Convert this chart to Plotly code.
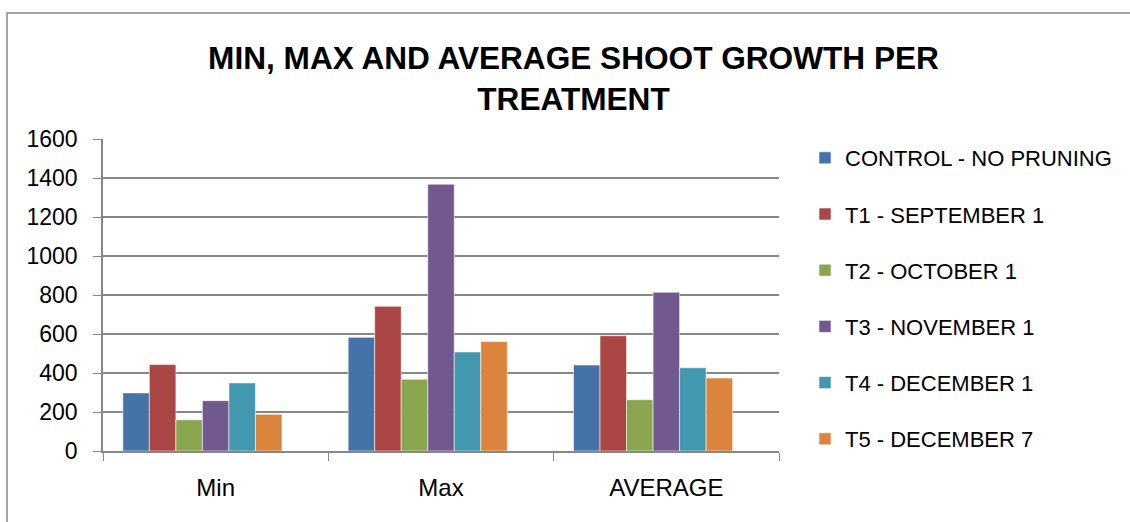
import plotly.graph_objects as go

categories = ["Min", "Max", "AVERAGE"]
series_names = [
    "CONTROL - NO PRUNING",
    "T1 - SEPTEMBER 1",
    "T2 - OCTOBER 1",
    "T3 - NOVEMBER 1",
    "T4 - DECEMBER 1",
    "T5 - DECEMBER 7",
]
control = [298, 583, 441]
t1 = [443, 742, 591]
t2 = [160, 368, 263]
t3 = [258, 1368, 814]
t4 = [349, 508, 427]
t5 = [188, 561, 374]
series_values = [control, t1, t2, t3, t4, t5]
colors = ["#4572A7", "#AA4643", "#89A54E", "#71588F", "#4198AF", "#DB843D"]
y_ticks = [0, 200, 400, 600, 800, 1000, 1200, 1400, 1600]

W, H = 1130, 522
L, R, T, B = 103, 779, 139, 451

fig = go.Figure()
n_slots = 7  # Excel reserves an empty 7th slot in each group
gap = 0.176
bw = (1 - gap) / n_slots
for i, (name, vals, col) in enumerate(zip(series_names, series_values, colors)):
    fig.add_trace(go.Bar(
        name=name, x=categories, y=vals,
        marker=dict(color=col, line=dict(color="rgba(255,255,255,0.55)", width=1)),
        width=bw, offset=-0.5 + gap / 2 + i * bw,
        legendgroup=name,
    ))

fig.update_layout(
    width=W, height=H,
    margin=dict(l=L, r=W - R, t=T, b=H - B, pad=0, autoexpand=False),
    paper_bgcolor="white", plot_bgcolor="white",
    font=dict(family="Liberation Sans, Arial, sans-serif", size=22, color="black"),
    title=dict(
        text="<b>MIN, MAX AND AVERAGE SHOOT GROWTH PER<br>TREATMENT</b>",
        font=dict(size=31.6, color="black"),
        x=573.5 / W, xanchor="center", xref="container",
        y=1 - 68.5 / H, yanchor="middle", yref="container",
    ),
    showlegend=True,
    legend=dict(
        x=(805 - L) / (R - L), xanchor="left",
        y=(B - 158 + 21) / (B - T), yanchor="top",
        font=dict(size=22, color="black"),
        tracegroupgap=24.6, traceorder="grouped",
        bgcolor="rgba(0,0,0,0)", maxheight=1,
    ),
    xaxis=dict(
        type="category", tickson="boundaries", ticks="outside", ticklen=8,
        tickcolor="#878787", showline=True, linecolor="#878787", linewidth=1.5,
        showgrid=False, ticklabelstandoff=14, tickfont=dict(size=24),
        range=[-0.5, 2.5],
    ),
    yaxis=dict(
        range=[0, 1600], tickvals=y_ticks, ticks="outside", ticklen=8,
        tickcolor="#878787", showline=True, linecolor="#878787", linewidth=1.5,
        showgrid=True, gridcolor="#878787", gridwidth=1.5, zeroline=False,
        ticklabelstandoff=11, tickfont=dict(size=23),
    ),
    bargap=gap,
)

# outer chart frame
fig.add_shape(
    type="rect", xref="paper", yref="paper",
    x0=(7 - L) / (R - L), x1=(1200 - L) / (R - L),
    y0=(B - 560) / (B - T), y1=(B - 13) / (B - T),
    line=dict(color="#878787", width=1.5), fillcolor="rgba(0,0,0,0)", layer="below",
)

fig.write_html("out.html", config={"displayModeBar": False},
               post_script="document.body.style.margin='0';")
